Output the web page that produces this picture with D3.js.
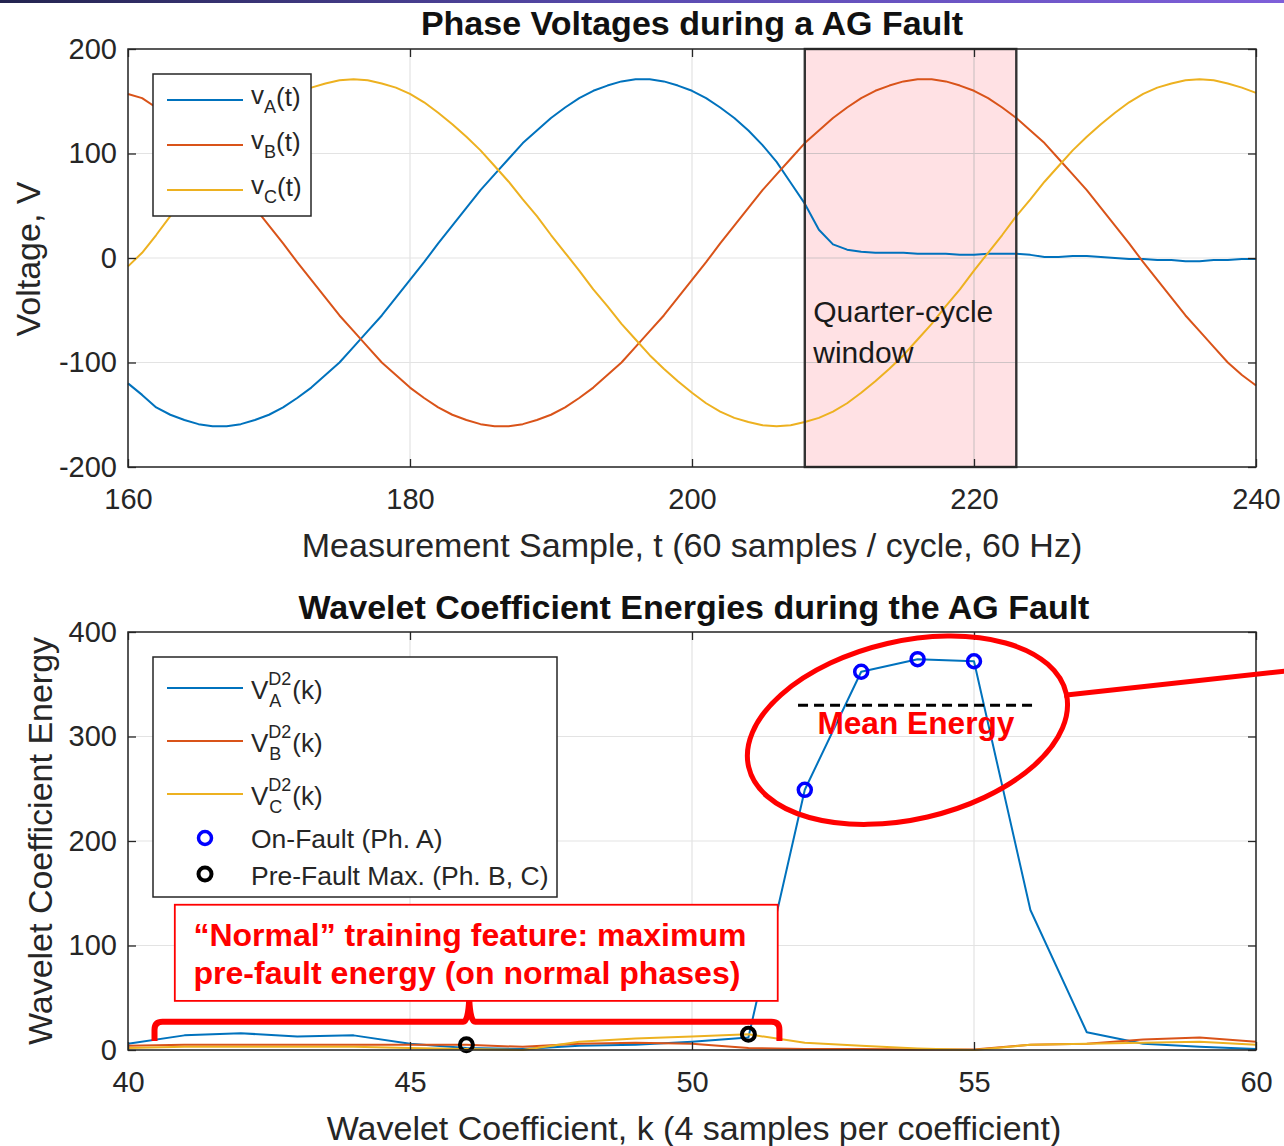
<!DOCTYPE html>
<html><head><meta charset="utf-8">
<script src="https://cdn.jsdelivr.net/npm/d3@7"></script>
<style>
html,body{margin:0;padding:0;background:#fff;}
svg{display:block;font-family:"Liberation Sans",Arial,Helvetica,sans-serif;}
</style></head>
<body>
<svg id="chart" width="1284" height="1146"></svg>
<script>
// ---------------- DATA ----------------
const sampleStart = 160, sampleEnd = 240;
// Phase voltages, samples t = 160 ... 240
const vA = [-120,-131,-143,-150,-155,-159,-161,-161,-159,-155,
  -150,-143,-134,-124,-112,-100,-85,-70,-55,-38,
  -21,-4,14,31,48,65,80,95,110,122,
  134,144,153,160,165,169,171,171,169,165,
  160,153,144,134,122,108,92,72,52,27,
  13,8,6,5,5,5,4,4,4,3,
  3,4,4,4,3,1,1,2,2,1,
  0,-1,-1,-2,-2,-3,-3,-2,-2,-1,
  -1];
const vB = [157,153,144,134,122,110,95,80,65,48,
  31,14,-4,-21,-38,-55,-70,-85,-100,-112,
  -124,-134,-143,-150,-155,-159,-161,-161,-159,-155,
  -150,-143,-134,-124,-112,-100,-85,-70,-55,-38,
  -21,-4,14,31,48,65,80,95,110,122,
  134,144,153,160,165,169,171,171,169,165,
  160,153,144,134,122,110,95,80,65,48,
  31,14,-4,-21,-38,-55,-70,-85,-100,-112,
  -122];
const vC = [-8,5,22,40,56,73,88,103,116,128,
  139,149,157,163,167,170,171,170,167,163,
  157,149,139,128,116,103,88,73,56,40,
  22,5,-12,-30,-46,-63,-78,-93,-106,-118,
  -129,-139,-147,-153,-157,-160,-161,-160,-157,-153,
  -147,-139,-129,-118,-106,-93,-78,-63,-46,-30,
  -12,5,22,40,56,73,88,103,116,128,
  139,149,157,163,167,170,171,170,167,163,
  158];
const phaseNames = ["A","B","C"];
const windowStart = 208, windowEnd = 223;

// Wavelet coefficient energies, k = 40 ... 60
const coefK = [40,41,42,43,44,45,46,47,48,49,50,51,52,53,54,55,56,57,58,59,60];
const eA = [6,14,16,13,14,6,2,1,4,5,8,12,249,362,374,372,134,17,6,3,1];
const eB = [4,5,5,5,5,5,5,3,6,7,6,2,1,1,0.5,0.5,5,6,10,12,8];
const eC = [2,3,3,3,3,2,1,0,8,11,13,15,7,4,1.5,0,5,6,7,8,5];
const onFaultK = [52,53,54,55];
const preFaultK = [46,51];
const preFaultV = [5,15];
const meanEnergyLevel = 330;

const xTicksTop = [160,180,200,220,240];
const yTicksTop = [-200,-100,0,100,200];
const xTicksBot = [40,45,50,55,60];
const yTicksBot = [0,100,200,300,400];

const colors = ["#0072BD","#D95319","#EDB120"];
const axisColor = "#262626";
const fmt = d => (d < 0 ? "-" + Math.abs(d) : String(d));

// ---------------- DRAW ----------------
const svg = d3.select("#chart");
const defs = svg.append("defs");
const grad = defs.append("linearGradient").attr("id","topbar").attr("x1","0").attr("x2","1");
grad.append("stop").attr("offset","0").attr("stop-color","#23244f");
grad.append("stop").attr("offset","0.5").attr("stop-color","#5a4bb0");
grad.append("stop").attr("offset","1").attr("stop-color","#7e5fd9");
svg.append("rect").attr("x",0).attr("y",0).attr("width",1284).attr("height",3).attr("fill","url(#topbar)");

const xT = d3.scaleLinear().domain([160,240]).range([128,1256]);
const yT = d3.scaleLinear().domain([-200,200]).range([467,49]);
const xB = d3.scaleLinear().domain([40,60]).range([128,1256]);
const yB = d3.scaleLinear().domain([0,400]).range([1050,632]);

function drawAxes(x, y, xt, yt) {
  const [x0,x1] = x.range(), [y1,y0] = y.range();
  const g = svg.append("g");
  g.selectAll(".gx").data(xt).join("line")
    .attr("x1",d=>x(d)).attr("x2",d=>x(d)).attr("y1",y0).attr("y2",y1)
    .attr("stroke","#e3e3e3").attr("stroke-width",1.2);
  g.selectAll(".gy").data(yt).join("line")
    .attr("y1",d=>y(d)).attr("y2",d=>y(d)).attr("x1",x0).attr("x2",x1)
    .attr("stroke","#e3e3e3").attr("stroke-width",1.2);
  return g;
}
function drawFrame(x, y, xt, yt) {
  const [x0,x1] = x.range(), [y1,y0] = y.range();
  const g = svg.append("g");
  g.append("g").attr("transform",`translate(0,${y1})`)
    .call(d3.axisBottom(x).tickValues(xt).tickSize(-8).tickPadding(21).tickFormat(fmt));
  g.append("g").attr("transform",`translate(0,${y0})`)
    .call(d3.axisTop(x).tickValues(xt).tickSize(-8).tickFormat(""));
  g.append("g").attr("transform",`translate(${x0},0)`)
    .call(d3.axisLeft(y).tickValues(yt).tickSize(-8).tickPadding(11).tickFormat(fmt));
  g.append("g").attr("transform",`translate(${x1},0)`)
    .call(d3.axisRight(y).tickValues(yt).tickSize(-8).tickFormat(""));
  g.selectAll(".domain").remove();
  g.selectAll(".tick line").attr("stroke",axisColor).attr("stroke-width",1.3);
  g.selectAll(".tick text").attr("fill",axisColor).attr("font-size",29)
    .attr("font-family",'"Liberation Sans",Arial,sans-serif');
  g.append("rect").attr("x",x0).attr("y",y0).attr("width",x1-x0).attr("height",y1-y0)
    .attr("fill","none").attr("stroke",axisColor).attr("stroke-width",1.5);
}

// ===== TOP PLOT =====
drawAxes(xT, yT, xTicksTop, yTicksTop);
svg.append("rect")
  .attr("x",xT(windowStart)).attr("y",yT(200))
  .attr("width",xT(windowEnd)-xT(windowStart)).attr("height",yT(-200)-yT(200))
  .attr("fill","#ffe1e4");
svg.selectAll(".gridover").data(xTicksTop.filter(d=>d>windowStart&&d<windowEnd)).join("line")
  .attr("x1",d=>xT(d)).attr("x2",d=>xT(d)).attr("y1",yT(200)).attr("y2",yT(-200))
  .attr("stroke","#cfc3c5").attr("stroke-width",1.2);
svg.selectAll(".gridover2").data(yTicksTop).join("line")
  .attr("x1",xT(windowStart)).attr("x2",xT(windowEnd)).attr("y1",d=>yT(d)).attr("y2",d=>yT(d))
  .attr("stroke","#cfc3c5").attr("stroke-width",1.2);

const tVals = d3.range(sampleStart, sampleEnd+1);
const lineT = d3.line().x((d,i)=>xT(tVals[i])).y(d=>yT(d));
[vA,vB,vC].forEach((s,i)=>{
  svg.append("path").datum(s).attr("d",lineT).attr("fill","none")
    .attr("stroke",colors[i]).attr("stroke-width",2).attr("stroke-linejoin","round");
});
svg.append("rect")
  .attr("x",xT(windowStart)).attr("y",yT(200))
  .attr("width",xT(windowEnd)-xT(windowStart)).attr("height",yT(-200)-yT(200))
  .attr("fill","none").attr("stroke","#333").attr("stroke-width",2.4);
svg.append("text").attr("x",xT(208.6)).attr("y",yT(-61)).attr("font-size",30).attr("fill","#1a1a1a").text("Quarter-cycle");
svg.append("text").attr("x",xT(208.6)).attr("y",yT(-100)).attr("font-size",30).attr("fill","#1a1a1a").text("window");
drawFrame(xT, yT, xTicksTop, yTicksTop);

// top legend
{
  const lg = svg.append("g");
  lg.append("rect").attr("x",153).attr("y",74).attr("width",158).attr("height",142)
    .attr("fill","#fff").attr("stroke",axisColor).attr("stroke-width",1.5);
  phaseNames.forEach((p,i)=>{
    const yy = 100 + i*45;
    lg.append("line").attr("x1",167).attr("x2",243).attr("y1",yy).attr("y2",yy)
      .attr("stroke",colors[i]).attr("stroke-width",2);
    const t1 = lg.append("text").attr("x",251).attr("y",yy+4).attr("font-size",26).attr("fill",axisColor).text("v");
    const w1 = t1.node().getComputedTextLength();
    const t2 = lg.append("text").attr("x",251+w1).attr("y",yy+13).attr("font-size",18).attr("fill",axisColor).text(p);
    const w2 = t2.node().getComputedTextLength();
    lg.append("text").attr("x",251+w1+w2).attr("y",yy+6).attr("font-size",26).attr("fill",axisColor).text("(t)");
  });
}

// titles / labels top
svg.append("text").attr("x",692).attr("y",35).attr("text-anchor","middle").attr("font-size",34)
  .attr("font-weight","bold").attr("fill","#111").text("Phase Voltages during a AG Fault");
svg.append("text").attr("x",692).attr("y",557).attr("text-anchor","middle").attr("font-size",34)
  .attr("fill",axisColor).text("Measurement Sample, t (60 samples / cycle, 60 Hz)");
svg.append("text").attr("transform","translate(40,259) rotate(-90)").attr("text-anchor","middle")
  .attr("font-size",34).attr("fill",axisColor).text("Voltage, V");

// ===== BOTTOM PLOT =====
drawAxes(xB, yB, xTicksBot, yTicksBot);
const lineB = d3.line().x((d,i)=>xB(coefK[i])).y(d=>yB(d));
[eA,eB,eC].forEach((s,i)=>{
  svg.append("path").datum(s).attr("d",lineB).attr("fill","none")
    .attr("stroke",colors[i]).attr("stroke-width",2).attr("stroke-linejoin","round");
});
svg.selectAll(".onf").data(onFaultK).join("circle")
  .attr("cx",d=>xB(d)).attr("cy",d=>yB(eA[coefK.indexOf(d)])).attr("r",6.5)
  .attr("fill","none").attr("stroke","#0000ff").attr("stroke-width",3.5);
svg.selectAll(".pref").data(preFaultK).join("circle")
  .attr("cx",d=>xB(d)).attr("cy",(d,i)=>yB(preFaultV[i])).attr("r",6.5)
  .attr("fill","none").attr("stroke","#000").attr("stroke-width",4);
drawFrame(xB, yB, xTicksBot, yTicksBot);

// bottom legend
{
  const lg = svg.append("g");
  lg.append("rect").attr("x",153).attr("y",657).attr("width",404).attr("height",240)
    .attr("fill","#fff").attr("stroke",axisColor).attr("stroke-width",1.5);
  phaseNames.forEach((p,i)=>{
    const yy = 688 + i*53;
    lg.append("line").attr("x1",167).attr("x2",243).attr("y1",yy).attr("y2",yy)
      .attr("stroke",colors[i]).attr("stroke-width",2);
    const t1 = lg.append("text").attr("x",251).attr("y",yy+11).attr("font-size",26).attr("fill",axisColor).text("V");
    const w1 = t1.node().getComputedTextLength();
    const sup = lg.append("text").attr("x",251+w1).attr("y",yy-3).attr("font-size",18).attr("fill",axisColor).text("D2");
    const sub = lg.append("text").attr("x",251+w1+1).attr("y",yy+19).attr("font-size",18).attr("fill",axisColor).text(p);
    const w2 = Math.max(sup.node().getComputedTextLength(), sub.node().getComputedTextLength());
    lg.append("text").attr("x",251+w1+w2+1).attr("y",yy+11).attr("font-size",26).attr("fill",axisColor).text("(k)");
  });
  lg.append("circle").attr("cx",205).attr("cy",838).attr("r",6.5).attr("fill","none").attr("stroke","#0000ff").attr("stroke-width",3.5);
  lg.append("circle").attr("cx",205).attr("cy",874).attr("r",6.5).attr("fill","none").attr("stroke","#000").attr("stroke-width",4);
  lg.append("text").attr("x",251).attr("y",848).attr("font-size",26.5).attr("fill",axisColor).text("On-Fault (Ph. A)");
  lg.append("text").attr("x",251).attr("y",885).attr("font-size",26.5).attr("fill",axisColor).text("Pre-Fault Max. (Ph. B, C)");
}

// annotations (in data units)
const red = "#ff0000";
const ecx = xB(53.82), ecy = yB(306);
svg.append("ellipse").attr("cx",ecx).attr("cy",ecy)
  .attr("rx",163).attr("ry",89)
  .attr("transform",`rotate(-13 ${ecx} ${ecy})`)
  .attr("fill","none").attr("stroke",red).attr("stroke-width",5);
svg.append("line").attr("x1",xB(56.6)).attr("y1",yB(339.5)).attr("x2",xB(60.6)).attr("y2",yB(363))
  .attr("stroke",red).attr("stroke-width",5);
svg.append("line").attr("x1",xB(51.88)).attr("x2",xB(56.06)).attr("y1",yB(meanEnergyLevel)).attr("y2",yB(meanEnergyLevel))
  .attr("stroke","#000").attr("stroke-width",3).attr("stroke-dasharray","10,6");
svg.append("text").attr("x",xB(53.97)).attr("y",yB(302)).attr("text-anchor","middle")
  .attr("font-size",31).attr("font-weight","bold").attr("fill",red)
  .attr("textLength",197).attr("lengthAdjust","spacingAndGlyphs").text("Mean Energy");

// bracket
{
  const xl = xB(40.47), xr = xB(51.55), xm = xB(46.05);
  const yh = yB(27), ye = yB(8.5), yp = yB(49);
  const r = 8;
  const p = d3.path();
  p.moveTo(xl, ye); p.lineTo(xl, yh + r); p.quadraticCurveTo(xl, yh, xl + r, yh);
  p.lineTo(xm - 6, yh); p.quadraticCurveTo(xm - 1, yh, xm, yp); p.quadraticCurveTo(xm + 1, yh, xm + 6, yh);
  p.lineTo(xr - r, yh); p.quadraticCurveTo(xr, yh, xr, yh + r); p.lineTo(xr, ye);
  svg.append("path").attr("d",p.toString()).attr("fill","none").attr("stroke",red).attr("stroke-width",6);
}
// annotation box
svg.append("rect").attr("x",xB(40.83)).attr("y",yB(139)).attr("width",xB(51.52)-xB(40.83)).attr("height",yB(47)-yB(139))
  .attr("fill","#fff").attr("stroke",red).attr("stroke-width",1.8);
svg.append("text").attr("x",xB(41.16)).attr("y",yB(100)).attr("font-size",31).attr("font-weight","bold").attr("fill",red)
  .attr("textLength",553).attr("lengthAdjust","spacingAndGlyphs")
  .text("\u201CNormal\u201D training feature: maximum");
svg.append("text").attr("x",xB(41.16)).attr("y",yB(63)).attr("font-size",31).attr("font-weight","bold").attr("fill",red)
  .attr("textLength",547).attr("lengthAdjust","spacingAndGlyphs")
  .text("pre-fault energy (on normal phases)");

// titles / labels bottom
svg.append("text").attr("x",694).attr("y",619).attr("text-anchor","middle").attr("font-size",34)
  .attr("font-weight","bold").attr("fill","#111").text("Wavelet Coefficient Energies during the AG Fault");
svg.append("text").attr("x",694).attr("y",1140).attr("text-anchor","middle").attr("font-size",34)
  .attr("fill",axisColor).text("Wavelet Coefficient, k (4 samples per coefficient)");
svg.append("text").attr("transform","translate(52,841) rotate(-90)").attr("text-anchor","middle")
  .attr("font-size",34).attr("fill",axisColor).text("Wavelet Coefficient Energy");
</script>
</body></html>
